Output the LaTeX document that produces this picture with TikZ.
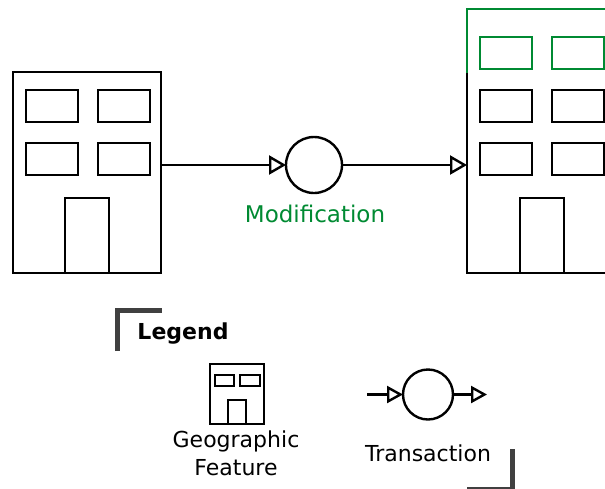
\documentclass[tikz,border=0pt]{standalone}
\usepackage{fontspec}
\setmainfont{DejaVu Sans}
\usetikzlibrary{arrows.meta,calc}
\definecolor{modgreen}{HTML}{008A32}
\definecolor{legendgray}{HTML}{404040}
\tikzset{
  x=1pt,y=-1pt,
  box/.style={draw=black,line width=2.4pt,rectangle,inner sep=0pt,outer sep=0pt,anchor=north west,minimum width=#1},
  greenbox/.style={box=#1,draw=modgreen},
  thinbox/.style={box=#1,line width=2.2pt},
  ring/.style={draw=black,line width=2.4pt,circle,inner sep=0pt,outer sep=0pt},
  flow/.style={draw=black,line width=2.4pt,-{Triangle[open,length=17pt,width=19pt,line width=2.4pt]}},
  smallflow/.style={draw=black,line width=2.4pt,-{Triangle[open,length=16pt,width=17pt,line width=2.4pt]}},
  legendmark/.style={draw=legendgray,line width=5pt},
  label/.style={inner sep=0pt,outer sep=0pt,font=\fontsize{22}{22}\selectfont,align=center},
}
\begin{document}
\begin{tikzpicture}
\useasboundingbox (0,0) rectangle (605,488);
\clip (0,0) rectangle (605,488);
% left building
\node[box=148pt,minimum height=201pt] (bldgA) at (13,72) {};
\node[box=52pt,minimum height=32pt] (a1) at (26,90) {};
\node[box=52pt,minimum height=32pt] (a2) at (98,90) {};
\node[box=52pt,minimum height=32pt] (a3) at (26,143) {};
\node[box=52pt,minimum height=32pt] (a4) at (98,143) {};
\node[box=44pt,minimum height=75pt] (doorA) at (65,198) {};
% right building
\node[box=160pt,minimum height=264pt] (bldgB) at (467,9) {};
\coordinate (greenend) at (467,73);
\coordinate (greenright) at (605,9);
\draw[modgreen,line width=2.4pt] (greenend) -- (bldgB.north west) -- (greenright);
\node[greenbox=52pt,minimum height=32pt] (b1) at (480,37) {};
\node[greenbox=52pt,minimum height=32pt] (b2) at (552,37) {};
\node[box=52pt,minimum height=32pt] (b3) at (480,90) {};
\node[box=52pt,minimum height=32pt] (b4) at (552,90) {};
\node[box=52pt,minimum height=32pt] (b5) at (480,143) {};
\node[box=52pt,minimum height=32pt] (b6) at (552,143) {};
\node[box=44pt,minimum height=75pt] (doorB) at (520,198) {};
% transaction
\node[ring,minimum size=56pt] (modC) at (314,165) {};
\draw[flow] (bldgA.east |- modC) -- (modC);
\draw[flow] (modC) -- (bldgB.west |- modC);
\node[label,font=\fontsize{23}{23}\selectfont,text=modgreen] (modL) at (315,214) {Modification};
% legend
\coordinate (lgA) at (117.5,351);
\coordinate (lgB) at (117.5,310.5);
\coordinate (lgC) at (162,310.5);
\draw[legendmark] (lgA) -- (lgB) -- (lgC);
\coordinate (lgD) at (512.5,449);
\coordinate (lgE) at (512.5,489.5);
\coordinate (lgF) at (467,489.5);
\draw[legendmark] (lgD) -- (lgE) -- (lgF);
\node[label,font=\fontsize{22}{22}\selectfont\bfseries] (lgT) at (183,334) {Legend};
% small building
\node[box=54pt,minimum height=60pt] (bldgC) at (210,364) {};
\node[thinbox=19pt,minimum height=11pt] (c1) at (215,375) {};
\node[thinbox=20pt,minimum height=11pt] (c2) at (240,375) {};
\node[thinbox=18pt,minimum height=24pt] (doorC) at (228,400) {};
\node[label] (geoL) at (236,441) {Geographic};
\node[label] (geoM) at (236,468) {Feature};
% small transaction
\node[ring,minimum size=50pt] (legC) at (428,394.5) {};
\coordinate (legIn) at (367,394.5);
\coordinate (legOut) at (487,394.5);
\draw[smallflow] (legIn) -- (legC);
\draw[smallflow] (legC) -- (legOut);
\node[label] (legL) at (428,453) {Transaction};
\end{tikzpicture}
\end{document}
